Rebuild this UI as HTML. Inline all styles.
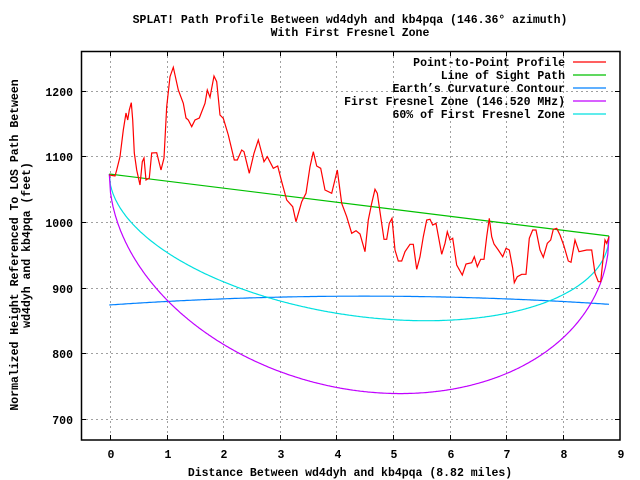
<!DOCTYPE html>
<html><head><meta charset="utf-8"><style>
html,body{margin:0;padding:0;background:#fff;}
svg{display:block;}
text{font-family:"Liberation Mono","DejaVu Sans Mono",monospace;font-weight:bold;font-size:11.5px;fill:#000;}
</style></head><body>
<svg id="s" width="640" height="480" viewBox="0 0 640 480" xmlns="http://www.w3.org/2000/svg">
<rect width="640" height="480" fill="#fff"/>
<g stroke="#a0a0a0" stroke-width="1" stroke-dasharray="2,3" fill="none">
<line x1="110.5" y1="51" x2="110.5" y2="440"/>
<line x1="167.5" y1="51" x2="167.5" y2="440"/>
<line x1="223.5" y1="51" x2="223.5" y2="440"/>
<line x1="280.5" y1="51" x2="280.5" y2="440"/>
<line x1="336.5" y1="51" x2="336.5" y2="440"/>
<line x1="393.5" y1="51" x2="393.5" y2="440"/>
<line x1="450.5" y1="51" x2="450.5" y2="440"/>
<line x1="506.5" y1="51" x2="506.5" y2="440"/>
<line x1="563.5" y1="51" x2="563.5" y2="440"/>
<line x1="81" y1="91.5" x2="620" y2="91.5"/>
<line x1="81" y1="156.5" x2="620" y2="156.5"/>
<line x1="81" y1="222.5" x2="620" y2="222.5"/>
<line x1="81" y1="288.5" x2="620" y2="288.5"/>
<line x1="81" y1="353.5" x2="620" y2="353.5"/>
<line x1="81" y1="419.5" x2="620" y2="419.5"/>
</g>
<g stroke="#000" stroke-width="1">
<path d="M110.5 440v-5M167.5 440v-5M223.5 440v-5M280.5 440v-5M336.5 440v-5M393.5 440v-5M450.5 440v-5M506.5 440v-5M563.5 440v-5M110.5 51v5M167.5 51v5M223.5 51v5M280.5 51v5M336.5 51v5M393.5 51v5M450.5 51v5M506.5 51v5M563.5 51v5"/>
<path d="M81 91.5h5M81 156.5h5M81 222.5h5M81 288.5h5M81 353.5h5M81 419.5h5M620 91.5h-5M620 156.5h-5M620 222.5h-5M620 288.5h-5M620 353.5h-5M620 419.5h-5"/>
</g>
<rect x="81.5" y="51.5" width="538.5" height="388.5" fill="none" stroke="#000" stroke-width="1.5"/>
<g id="curves" fill="none" stroke-width="1.2"></g>
<text x="350" y="23" text-anchor="middle">SPLAT! Path Profile Between wd4dyh and kb4pqa (146.36° azimuth)</text>
<text x="350" y="36" text-anchor="middle">With First Fresnel Zone</text>
<g text-anchor="end">
<text x="73" y="96">1200</text><text x="73" y="161">1100</text><text x="73" y="227">1000</text>
<text x="73" y="293">900</text><text x="73" y="358">800</text><text x="73" y="424">700</text>
</g>
<g text-anchor="middle">
<text x="111" y="458">0</text><text x="168" y="458">1</text><text x="224" y="458">2</text><text x="281" y="458">3</text><text x="338" y="458">4</text><text x="394" y="458">5</text><text x="451" y="458">6</text><text x="507" y="458">7</text><text x="564" y="458">8</text><text x="621" y="458">9</text>
<text x="350" y="476">Distance Between wd4dyh and kb4pqa (8.82 miles)</text>
<text transform="translate(18,245) rotate(-90)">Normalized Height Referenced To LOS Path Between</text>
<text transform="translate(30,245) rotate(-90)">wd4dyh and kb4pqa (feet)</text>
</g>
<g text-anchor="end">
<text x="565" y="66">Point-to-Point Profile</text>
<text x="565" y="79">Line of Sight Path</text>
<text x="565" y="92">Earth’s Curvature Contour</text>
<text x="565" y="105">First Fresnel Zone (146.520 MHz)</text>
<text x="565" y="118">60% of First Fresnel Zone</text>
</g>
<g stroke-width="1.2">
<line x1="573" y1="62" x2="606" y2="62" stroke="#ff0000"/>
<line x1="573" y1="75" x2="606" y2="75" stroke="#00c000"/>
<line x1="573" y1="88" x2="606" y2="88" stroke="#0080ff"/>
<line x1="573" y1="101" x2="606" y2="101" stroke="#c000ff"/>
<line x1="573" y1="114" x2="606" y2="114" stroke="#00e0e0"/>
</g>
</svg>
<script>
var g=document.getElementById('curves');
function add(d,c){var p=document.createElementNS('http://www.w3.org/2000/svg','path');p.setAttribute('d',d);p.setAttribute('stroke',c);g.appendChild(p);}
var x0=109.3,x1=609,y0=174,y1=236;
function los(x){return y0+(y1-y0)*(x-x0)/(x1-x0);}
// earth curvature: quadratic through (109.7,305),(392.7,296.7),(608.7,304.3)
function curv(x){var t=(x-x0)/(x1-x0);return 305-0.7*t+(-4*8.6)*t*(1-t)*-(-1)*1+0;} 
function curv2(x){var t=(x-x0)/(x1-x0);return 305-0.7*t-34*t*(1-t);}
var fr="",cy="",ea="";
for(var i=0;i<=400;i++){var t=i/400;var t2=Math.pow(t,1);var x=x0+(x1-x0)*t;var s=Math.sqrt(t*(1-t));
fr+=(i?"L":"M")+x.toFixed(1)+" "+(los(x)+372*s).toFixed(1);
cy+=(i?"L":"M")+x.toFixed(1)+" "+(los(x)+223*s).toFixed(1);
ea+=(i?"L":"M")+x.toFixed(1)+" "+curv2(x).toFixed(1);}
add(ea,"#0080ff");
add(cy,"#00e0e0");
add(fr,"#c000ff");
add("M"+x0+" "+y0+"L"+x1+" "+y1,"#00c000");
var r=[109.3,175,115,176,116.7,170,120,156.7,123.3,130,126,113,127.7,120,129.3,110,131.3,102.7,132.7,120,134.3,153,136.7,170,140,185,142.3,161.7,144,158,146,180,149.3,178,151.7,153,156.7,152.7,161,170,164,158,166.7,106.7,170,76.7,173.3,67.3,178.3,90,183.3,103.3,186,118,188.3,120,191.7,126.7,195,120,199.3,118,205,103.3,207.3,90,210,97.3,214,76,216.7,81.7,220,115,223.3,118.3,228.3,135,234.3,160,237.3,160,241.7,150,244,151.7,249.3,173.3,254,153.3,258.3,140,264,161.7,267.3,156.7,273.3,168.3,277.7,166,281.7,181.7,286.7,200,292.7,206.7,296,221.7,301.7,201.7,306,193.3,310,166.7,313.3,151.7,316.7,166,320.7,168.3,325,190,331.7,193.3,337.3,170,341.7,203.3,346.7,216.7,351.7,233.3,356,230.7,360,234,365,251.7,368.3,220,371.7,203.3,375,189.3,377.3,193.3,380.7,216.7,384,239.3,386.7,239.3,389.3,223.3,392,218.3,395,250,398.3,261,401.7,261,405,251.7,410,244.3,413.3,244.3,416.7,269.3,420,256.7,423.3,236.7,426.7,220,430,219.3,432.7,225,436,223.3,441.7,254.3,445,243.3,447.3,231.7,450,240,452.7,238.3,456.7,265,462.3,275,466,264,471.7,262.7,474.3,256.7,477.3,266.7,480.7,259.3,484,259.3,486.7,236.7,489.3,218.3,491.7,236.7,494,244,498.3,250,502.7,256.7,506,248.3,509.3,250,512.7,268.3,514.3,282.7,517.3,276.7,521.7,274.3,526,274.3,529.3,238.3,532.7,230,536,230,540,250,543.3,257.3,547.3,243.3,550.7,240,553.3,229.3,556.7,228.3,560,235,564,246,568.3,261,571,262.3,575,240,579,251.7,586.7,250,591.7,250,595,273.3,598.3,281.7,600.7,281.7,605,240,606.7,243.3,609,236.7];
var d="";for(var j=0;j<r.length;j+=2){d+=(j?"L":"M")+r[j]+" "+r[j+1];}
add(d,"#ff0000");
</script>
</body></html>
